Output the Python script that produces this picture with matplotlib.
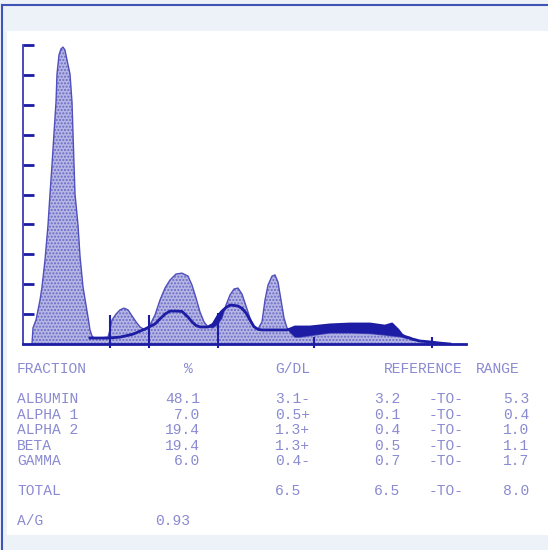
import numpy as np
import matplotlib
matplotlib.use('Agg')
import matplotlib.pyplot as plt
from matplotlib.patches import Rectangle
from matplotlib.lines import Line2D

# scan position along the strip (arbitrary units) and densitometer readings
scan_pos = [9, 10, 13, 17, 19, 22, 25, 27, 29, 31, 33, 34, 36, 38, 40, 42, 44, 47, 49, 50,
            51, 52, 55, 57, 60, 63, 65, 67, 69, 71, 77, 85, 87, 89, 93, 97, 101, 105, 109, 113,
            117, 122, 126, 132, 137, 142, 147, 153, 159, 165, 169, 173, 177, 181, 185, 190, 195, 199, 203, 207,
            211, 215, 219, 223, 227, 231, 235, 239, 242, 245, 249, 252, 255, 258, 261, 264, 267, 272, 277, 287,
            307, 327, 347, 362, 369, 375, 379, 382, 387, 389, 397, 407, 417, 427]
patient = [0, 0.54, 0.80, 1.47, 1.91, 2.81, 3.98, 5.02, 5.99, 7.06, 8.09, 9.03, 9.67, 9.87, 9.93, 9.83, 9.50, 9.03, 8.09, 7.06,
           6.02, 5.02, 3.98, 2.94, 1.91, 1.30, 0.90, 0.47, 0.27, 0.20, 0.20, 0.23, 0.47, 0.80, 1.00, 1.14, 1.20, 1.14, 0.94, 0.74,
           0.57, 0.47, 0.57, 0.97, 1.47, 1.87, 2.14, 2.34, 2.37, 2.27, 1.97, 1.54, 1.07, 0.74, 0.57, 0.54, 0.67, 0.87, 1.30, 1.64,
           1.84, 1.87, 1.67, 1.27, 0.87, 0.57, 0.50, 0.74, 1.47, 1.97, 2.27, 2.31, 2.07, 1.47, 0.87, 0.54, 0.40, 0.23, 0.23, 0.28,
           0.37, 0.37, 0.35, 0.30, 0.27, 0.25, 0.23, 0.20, 0.17, 0.13, 0.10, 0.07, 0.03, 0]
nan = np.nan
reference = [nan] * 27 + [0.20, 0.20, 0.20, 0.20, 0.20, 0.20, 0.21, 0.22, 0.23, 0.26, 0.29, 0.32, 0.37,
             0.43, 0.50, 0.57, 0.67, 0.84, 1.00, 1.10, 1.10, 1.09, 0.90, 0.74, 0.62, 0.57, 0.57, 0.57, 0.66, 0.94, 1.10, 1.22, 1.30,
             1.29, 1.27, 1.19, 1.04, 0.80, 0.58, 0.49, 0.47, 0.47, 0.47, 0.47, 0.47, 0.47, 0.47, 0.47, 0.47, 0.50, 0.57, 0.57, 0.57,
             0.64, 0.67, 0.67, 0.60, 0.67, 0.47, 0.30, 0.25, 0.20, 0.17, 0.10, 0.07, 0.03, 0]

# fraction boundary marks
mark_pos = [87, 126, 195, 291, 409]
mark_top = [0.97, 0.97, 1.04, 0.23, 0.23]

# report table
fractions = ['ALBUMIN', 'ALPHA 1', 'ALPHA 2', 'BETA', 'GAMMA']
percent = ['48.1', '7.0', '19.4', '19.4', '6.0']
g_dl = ['3.1-', '0.5+', '1.3+', '1.3+', '0.4-']
ref_low = ['3.2', '0.1', '0.4', '0.5', '0.7']
ref_high = ['5.3', '0.4', '1.0', '1.1', '1.7']
total = ['6.5', '6.5', '8.0']
ag_ratio = '0.93'

ink = '#1c1ca4'
light_ink = '#8a8ad2'
W, H = 548, 550

fig = plt.figure(figsize=(W / 100, H / 100), dpi=100)
fig.patch.set_facecolor('#edf1f8')

def fx(px):
    return px / W

def fy(py):
    return 1 - py / H

# white paper area and frame lines
fig.add_artist(Rectangle((fx(7), fy(535)), fx(541), 504 / H, transform=fig.transFigure,
                         facecolor='white', edgecolor='none', zorder=0))
fig.add_artist(Line2D([fx(2), fx(548)], [fy(5), fy(5)], transform=fig.transFigure, color='#3f55b5', lw=1.5))
fig.add_artist(Line2D([fx(2), fx(2)], [fy(5), 0], transform=fig.transFigure, color='#3f55b5', lw=1.5))

ax = fig.add_axes([fx(23), fy(344), 443 / W, 299 / H])
ax.set_facecolor('none')
x = np.array(scan_pos)
p = np.array(patient)
r = np.array(reference)

ax.fill_between(x, 0, p, facecolor='#b6b6e4', edgecolor='#6a6ac8', hatch='.....', linewidth=0, zorder=1)
ax.plot(x, p, color='#5050bc', lw=1.0, zorder=2)
ax.fill_between(x, p, r, where=r > p, interpolate=True, facecolor=ink, edgecolor='none', zorder=3)
ax.plot(x, r, color=ink, lw=2.0, zorder=4)
ax.vlines(mark_pos, -0.13, mark_top, color=ink, lw=1.5, zorder=5, clip_on=False)

ax.set_xlim(0, 443)
ax.set_ylim(0, 10)
ax.set_yticks(range(1, 11))
ax.set_xticks([])
ax.tick_params(axis='y', direction='in', length=8, width=2, color=ink, labelleft=False)
for side in ['top', 'right']:
    ax.spines[side].set_visible(False)
ax.spines['left'].set_color('#3a3ab4')
ax.spines['left'].set_linewidth(1.3)
ax.spines['bottom'].set_color(ink)
ax.spines['bottom'].set_linewidth(2)

# printed table
font = dict(family='Liberation Mono', fontsize=10.5, color=light_ink, va='center')

def put(px, py, s, ha='left'):
    fig.text(fx(px), fy(py), s, ha=ha, **font)

put(17, 369, 'FRACTION')
put(184, 369, '%')
put(275, 369, 'G/DL')
put(384, 369, 'REFERENCE')
put(476, 369, 'RANGE')

row_y = [399, 415, 430, 446, 461]
for i, name in enumerate(fractions):
    put(17, row_y[i], name)
    put(200, row_y[i], percent[i], ha='right')
    put(275, row_y[i], g_dl[i])
    put(374, row_y[i], ref_low[i])
    put(429, row_y[i], '-TO-')
    put(503, row_y[i], ref_high[i])

put(17, 491, 'TOTAL')
put(275, 491, total[0])
put(374, 491, total[1])
put(429, 491, '-TO-')
put(503, 491, total[2])

put(17, 521, 'A/G')
put(155, 521, ag_ratio)

fig.savefig('out.png', dpi=100, facecolor=fig.get_facecolor())
